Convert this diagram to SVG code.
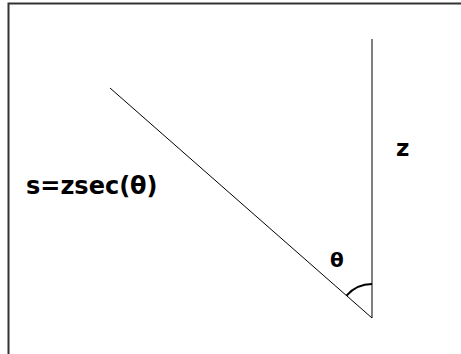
<svg xmlns="http://www.w3.org/2000/svg" width="461" height="354" viewBox="0 0 461 354">
<style>
.ln{stroke:#000;stroke-width:1;fill:none}
.lbl{font-family:"DejaVu Sans",Verdana,sans-serif;font-weight:bold;fill:#000}
</style>
<rect width="461" height="354" fill="#fff"/>
<g id="frame">
<polyline points="8.5,354 8.5,3.5 461,3.5" stroke="#333" stroke-width="2" fill="none"/>
</g>
<g id="connectors">
<line class="ln" x1="372" y1="39" x2="372" y2="318"/>
<line class="ln" x1="110" y1="88" x2="372" y2="318"/>
<path d="M346.5,295.6 A34,34 0 0 1 372,284" stroke="#000" stroke-width="2" fill="none"/>
</g>
<g id="label-z"><text class="lbl" x="396" y="156" font-size="23">z</text></g>
<g id="label-s"><text class="lbl" x="26" y="194" font-size="24">s=zsec(θ)</text></g>
<g id="label-theta"><text class="lbl" x="330" y="267" font-size="20">θ</text></g>
</svg>
